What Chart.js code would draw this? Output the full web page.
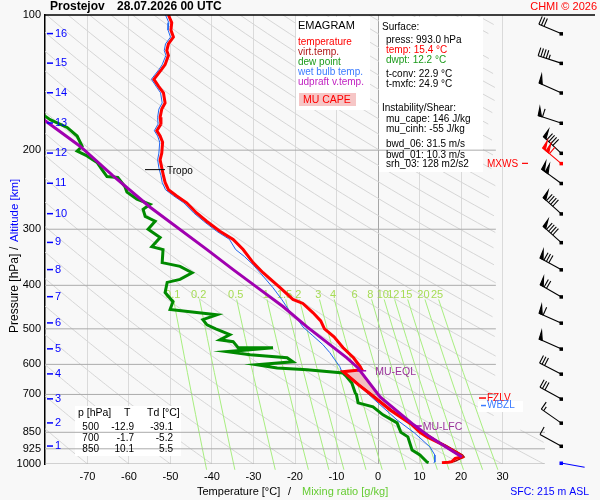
<!DOCTYPE html>
<html><head><meta charset="utf-8">
<script src="https://cdn.jsdelivr.net/npm/chart.js@4.4.1/dist/chart.umd.min.js"></script>
<style>html,body{margin:0;padding:0;background:#f8f8f8}canvas{display:block}</style>
</head><body>
<canvas id="c" width="600" height="500"></canvas>
<script>
// ---------- data ----------
const pTicks = [100,200,300,400,500,600,700,850,925,1000];
const xTicks = [-70,-60,-50,-40,-30,-20,-10,0,10,20,30];

const tempP = [100,104,108,112,116,120,123,129,132,139,144,149,157,162,169,175,181,186,192,203,210,219,228,236,245,253,262,276,288,303,316,333,356,375,405,430,439,460,480,500,521,551,580,607,617,623,666,700,758,818,850,870,907,955,965,972,988,991,993];
const tempT = [-50.5,-49.7,-49.9,-49.3,-50.5,-50.9,-50.5,-51.3,-52.1,-54.0,-52.9,-51.7,-51.3,-52.1,-52.5,-52.3,-53.3,-52.5,-51.9,-52.1,-52.5,-52.1,-51.7,-51.3,-50.5,-48.5,-46.1,-43.7,-41.3,-38.1,-34.9,-32.5,-30.1,-27.7,-23.6,-20.5,-18.1,-15.7,-13.8,-12.9,-10.6,-8.4,-5.9,-4.3,-3.9,-8.4,-4.7,-1.7,2.9,8.2,10.1,11.8,15.7,19.8,20.2,18.6,17.8,17.0,15.4];

const virtP = [993,988,965,955,907,870,850,818,758,700,666,623,617,580,551,521,500];
const virtT = [16.0,18.4,20.8,20.4,16.3,12.3,10.6,8.6,3.3,-1.4,-4.5,-8.2,-3.7,-5.8,-8.3,-10.5,-12.8];

const dewP = [164,168,171,178,186,196,201,206,213,221,229,230,241,248,257,264,271,281,288,300,313,328,333,356,363,375,388,394,415,435,453,458,465,477,490,500,515,529,534,551,551,562,571,580,592,601,611,617,627,640,660,694,700,731,746,777,810,850,870,931,955,990,993];
const dewT = [-82.0,-80.2,-79.0,-74.9,-72.5,-71.3,-72.5,-70.1,-67.7,-66.5,-65.3,-62.7,-61.0,-60.5,-58.1,-54.9,-56.6,-56.1,-53.7,-55.4,-52.5,-54.5,-51.8,-52.0,-47.7,-44.8,-47.7,-50.8,-51.3,-49.4,-50.1,-45.3,-38.8,-42.2,-41.2,-39.1,-35.7,-38.1,-34.9,-33.7,-25.3,-36.4,-30.8,-21.9,-20.5,-29.2,-24.3,-17.1,-8.4,-7.5,-6.3,-5.5,-5.2,-4.8,-1.2,1.2,4.6,5.5,7.2,8.2,10.1,11.8,12.2];

const wbP = [100,104,108,112,116,120,123,129,132,139,144,149,157,162,169,175,181,186,192,203,210,219,228,236,245,253,262,276,288,303,316,333,345,360,375,405,430,458,477,495,518,542,565,586,607,633,649,694,738,798,853,916,955,990,993];
const wbT = [-51.2,-50.4,-50.6,-50.0,-51.2,-51.5,-51.1,-52.0,-52.7,-54.6,-53.5,-52.4,-52.0,-52.8,-53.1,-53.0,-53.9,-53.1,-52.6,-52.8,-53.1,-52.8,-52.3,-52.0,-51.2,-49.2,-46.8,-44.4,-42.0,-38.9,-35.8,-34.3,-32.2,-30.1,-28.4,-25.3,-23.2,-21.2,-19.3,-18.1,-15.7,-13.3,-11.6,-10.4,-9.2,-8.4,-6.0,-2.7,0.5,4.6,8.8,12.5,13.7,13.7,13.4];

const parP = [965,870,818,709,620,611,580,542,495,446,409,369,333,268,228,196,172,160];
const parT = [20.2,12.5,8.6,0.5,-4.3,-4.8,-7.5,-11.6,-17.1,-22.9,-28.4,-34.9,-41.2,-54.9,-63.9,-71.8,-80.2,-84.0];

const lfcP = 823, lfcT = 8.6;
const eqlP = 620, eqlT = -4.3;
const tropoP = 221;
const fzlP = 713, wbzlP = 741;

const mixW = [0.1,0.2,0.5,1,1.5,2,3,4,6,8,10,12,15,20,25];
const mixLabels = ['0.1','0.2','0.5','1','1.5','2','3','4','6','8','10','12','15','20','25'];
const mixP = [430,475,525,575,625,700,775,850,925,1000,1030];
const mixLabelP = 420;

const altKm = [1,2,3,4,5,6,7,8,9,10,11,12,13,14,15,16];
const altP = [912,810,716,630,554,485,424,369,321,277,237,203,174,149,128,110];
const windDir = [299,305,299,297,294,294,300,299,312,312,306,313,288,294,288,293];
const windSpd = [10,15,30,30,50,60,70,80,90,90,100,90,60,50,45,30];
const mxwsP = 214, mxwsDir = 310, mxwsSpd = 110;
const sfcP = 995, sfcDir = 100, sfcSpd = 0;

const tableP = ['500','700','850'];
const tableT = ['-12.9','-1.7','10.1'];
const tableTd = ['-39.1','-5.2','5.5'];

// ---------- helpers ----------
const FONT = '"Liberation Sans", Arial, sans-serif';
const pts = (P, T) => P.map((p, i) => ({x: T[i], y: p}));
function tdFromW(w, p){ const e = w*p/(622+w); const a = Math.log(e/6.112); return 243.5*a/(17.67-a); }
function txt(ctx, s, x, y, col, size, align, bold){
  ctx.font = (bold ? 'bold ' : '') + size + 'px ' + FONT;
  ctx.fillStyle = col; ctx.textAlign = align || 'left'; ctx.textBaseline = 'middle';
  ctx.fillText(s, x, y);
}

const datasets = [];
// dry adiabats (reference grid)
const adiaP = []; for (let p = 100; p <= 1000; p += 5) adiaP.push(p);
for (let th = -70; th <= 300; th += 10) {
  let seg = [];
  const flush = () => { if (seg.length > 1) datasets.push({data: seg, borderColor: '#d6d6d6', borderWidth: 1, kind: 'bg', order: 100}); seg = []; };
  for (const p of adiaP) {
    const t = (th + 273.15) * Math.pow(p/1000, 0.2857) - 273.15;
    const lim = p >= 840 ? 40.3 : 28.4;
    if (t <= lim) seg.push({x: t, y: p}); else flush();
  }
  flush();
}
// mixing ratio lines
mixW.forEach(w => {
  datasets.push({data: mixP.map(p => ({x: tdFromW(w, p), y: p})), borderColor: '#a8ee80', borderWidth: 1, kind: 'bg', order: 95, clip: {left: 1, top: 1, right: 1, bottom: 7}});
});
// isobars
pTicks.slice(1).forEach(p => {
  datasets.push({data: [{x: -80.24, y: p}, {x: p >= 850 ? 40.24 : 28.4, y: p}], borderColor: '#ababab', borderWidth: 1, kind: 'iso', order: 60});
});
// CAPE polygons (built from parcel and temperature arrays)
const parPts = parP.map((p,i)=>({x: parT[i], y: p}));
const tmpPts = tempP.map((p,i)=>({x: tempT[i], y: p}));
const cape1 = [...parPts.filter(o => o.y >= 617 && o.y <= 818), ...tmpPts.filter(o => o.y >= 617 && o.y <= 818)];
const cape2 = [...parPts.filter(o => o.y >= 818 && o.y <= 965), ...tmpPts.filter(o => o.y >= 818 && o.y <= 965).reverse()];
// profiles
datasets.push({data: pts(wbP, wbT), borderColor: '#2266ee', borderWidth: 1, kind: 'prof', order: 40});
datasets.push({data: pts(virtP, virtT), borderColor: '#9a0000', borderWidth: 1.2, kind: 'prof', order: 35});
datasets.push({data: pts(dewP, dewT), borderColor: '#008a00', borderWidth: 3, kind: 'prof', order: 30});
datasets.push({data: pts(tempP, tempT), borderColor: '#ff0000', borderWidth: 3, kind: 'prof', order: 20});
datasets.push({data: pts(parP, parT), borderColor: '#a000b0', borderWidth: 3, kind: 'prof', order: 10});
datasets.forEach(d => { d.showLine = true; d.pointRadius = 0; d.fill = false; });

function barb(ctx, x0, y0, dir, spd, col){
  const r = dir*Math.PI/180, ux = Math.sin(r), uy = -Math.cos(r);
  const L = 24, bl = 8.5;
  const tx = x0 + ux*L, ty = y0 + uy*L;
  const bx = -uy*bl, by = ux*bl;
  ctx.strokeStyle = col; ctx.fillStyle = col; ctx.lineWidth = 1.1;
  ctx.beginPath(); ctx.moveTo(x0, y0); ctx.lineTo(tx, ty); ctx.stroke();
  ctx.fillRect(x0-1.5, y0-1.5, 3.5, 3.5);
  let s = Math.round(spd/5)*5, pos = 0;
  const flags = Math.floor(s/50); s -= flags*50;
  const full = Math.floor(s/10); s -= full*10;
  const half = s >= 5;
  for (let i = 0; i < flags; i++) {
    const ax = tx - ux*pos, ay = ty - uy*pos, cx = tx - ux*(pos+3.5), cy = ty - uy*(pos+3.5);
    ctx.beginPath(); ctx.moveTo(ax, ay); ctx.lineTo(ax + bx + ux*1, ay + by + uy*1); ctx.lineTo(cx, cy); ctx.closePath(); ctx.fill(); ctx.stroke();
    pos += 4.5;
  }
  for (let i = 0; i < full; i++) {
    const ax = tx - ux*pos, ay = ty - uy*pos;
    ctx.beginPath(); ctx.moveTo(ax, ay); ctx.lineTo(ax + bx, ay + by); ctx.stroke();
    pos += 2.8;
  }
  if (half) {
    if (flags === 0 && full === 0) pos = 2.8;
    const ax = tx - ux*pos, ay = ty - uy*pos;
    ctx.beginPath(); ctx.moveTo(ax, ay); ctx.lineTo(ax + bx*0.55, ay + by*0.55); ctx.stroke();
  }
}

function poly(ctx, X, Y, arr, fill, stroke){
  ctx.beginPath();
  arr.forEach((o, i) => { const x = X.getPixelForValue(o.x), y = Y.getPixelForValue(o.y); if (i) ctx.lineTo(x, y); else ctx.moveTo(x, y); });
  ctx.closePath();
  ctx.fillStyle = fill; ctx.fill();
  if (stroke) { ctx.strokeStyle = stroke; ctx.lineWidth = 1; ctx.stroke(); }
}

function drawBoxes(chart){
  const ctx = chart.ctx, X = chart.scales.x, Y = chart.scales.y;
  ctx.save();
  ctx.fillStyle = '#ffffff';
  ctx.fillRect(296, 17, 74, 93);
  ctx.fillRect(379, 17, 104, 155);
  ctx.fillRect(75, 406, 106, 50);
  mixW.forEach((w, i) => {
    txt(ctx, mixLabels[i], X.getPixelForValue(tdFromW(w, mixLabelP)), Y.getPixelForValue(mixLabelP), '#a6dc55', 11, 'center');
  });
  const ca = chart.chartArea;
  ctx.beginPath(); ctx.rect(ca.left, ca.top, ca.right - ca.left, ca.bottom - ca.top); ctx.clip();
  poly(ctx, X, Y, cape2, '#fbe6e6', '#b00000');
  poly(ctx, X, Y, cape1, '#f2c0c0', null);
  ctx.restore();
}

const annot = {
  id: 'annot',
  beforeDraw(chart){ const c = chart.ctx; c.save(); c.fillStyle = '#f8f8f8'; c.fillRect(0, 0, chart.width, chart.height); c.restore(); },
  beforeDatasetsDraw(chart){ chart.$boxes = false; },
  beforeDatasetDraw(chart, args){
    const ds = chart.data.datasets[args.index];
    if (!chart.$boxes && ds.kind !== 'bg') { chart.$boxes = true; drawBoxes(chart); }
  },
  afterDatasetsDraw(chart){
    const ctx = chart.ctx, X = chart.scales.x, Y = chart.scales.y;
    const px = t => X.getPixelForValue(t), py = p => Y.getPixelForValue(p);
    ctx.save();
    // top frame line
    ctx.strokeStyle = '#000'; ctx.lineWidth = 1.5;
    ctx.beginPath(); ctx.moveTo(45, py(100)); ctx.lineTo(595, py(100)); ctx.stroke();
    // title
    txt(ctx, 'Prostejov', 50, 7, '#000', 12, 'left', true);
    txt(ctx, '28.07.2026 00 UTC', 117, 7, '#000', 12, 'left', true);
    txt(ctx, 'CHMI \u00a9 2026', 597, 7, '#ff0000', 11, 'right');
    // legend
    txt(ctx, 'EMAGRAM', 298, 26, '#000', 11);
    txt(ctx, 'temperature', 298, 42, '#ff0000', 10);
    txt(ctx, 'virt.temp.', 298, 52, '#b01818', 10);
    txt(ctx, 'dew point', 298, 62, '#1a9a1a', 10);
    txt(ctx, 'wet bulb temp.', 298, 72, '#3a7bff', 10);
    txt(ctx, 'udpraft v.temp.', 298, 82, '#c020c0', 10);
    ctx.fillStyle = '#f6c6c6'; ctx.fillRect(299, 93, 57, 13);
    txt(ctx, 'MU CAPE', 303, 100, '#ff0000', 10.5);
    // info box
    txt(ctx, 'Surface:', 382, 27, '#000', 10);
    txt(ctx, 'press: 993.0 hPa', 386, 40, '#000', 10);
    txt(ctx, 'temp: 15.4 \u00b0C', 386, 50, '#ff0000', 10);
    txt(ctx, 'dwpt: 12.2 \u00b0C', 386, 60, '#1a9a1a', 10);
    txt(ctx, 't-conv: 22.9 \u00b0C', 386, 74, '#000', 10);
    txt(ctx, 't-mxfc: 24.9 \u00b0C', 386, 84, '#000', 10);
    txt(ctx, 'Instability/Shear:', 382, 108, '#000', 10);
    txt(ctx, 'mu_cape: 146 J/kg', 386, 119, '#000', 10);
    txt(ctx, 'mu_cinh: -55 J/kg', 386, 129, '#000', 10);
    txt(ctx, 'bwd_06: 31.5 m/s', 386, 144, '#000', 10);
    txt(ctx, 'bwd_01: 10.3 m/s', 386, 155, '#000', 10);
    txt(ctx, 'srh_03: 128 m2/s2', 386, 164, '#000', 10);
    // table
    txt(ctx, 'p [hPa]', 78, 413, '#000', 10.5);
    txt(ctx, 'T', 124, 413, '#000', 10.5);
    txt(ctx, 'Td [\u00b0C]', 147, 413, '#000', 10.5);
    const rowY = [427, 438, 449];
    tableP.forEach((v, i) => {
      txt(ctx, v, 99, rowY[i], '#000', 10, 'right');
      txt(ctx, tableT[i], 134, rowY[i], '#000', 10, 'right');
      txt(ctx, tableTd[i], 173, rowY[i], '#000', 10, 'right');
    });
    // altitude ticks
    ctx.strokeStyle = '#0000ff'; ctx.lineWidth = 1.5;
    altKm.forEach((k, i) => {
      const y = py(altP[i]);
      ctx.beginPath(); ctx.moveTo(47, y); ctx.lineTo(53, y); ctx.stroke();
      txt(ctx, String(k), 55, y, '#0000ff', 11);
    });
    // axis titles
    ctx.save(); ctx.translate(15, 333); ctx.rotate(-Math.PI/2);
    txt(ctx, 'Pressure [hPa]', 0, 0, '#000', 12);
    txt(ctx, '/', 83, 0, '#000', 12);
    txt(ctx, 'Altitude [km]', 91, 0, '#0000ff', 11.5);
    ctx.restore();
    txt(ctx, 'Temperature [\u00b0C]', 197, 492, '#000', 11);
    txt(ctx, '/', 288, 492, '#000', 11);
    txt(ctx, 'Mixing ratio [g/kg]', 302, 492, '#66cc33', 11);
    txt(ctx, 'SFC: 215 m ASL', 589, 492, '#0000ff', 10.5, 'right');
    // tropopause
    ctx.strokeStyle = '#000'; ctx.lineWidth = 1;
    const ty = py(tropoP);
    ctx.beginPath(); ctx.moveTo(145, ty); ctx.lineTo(165, ty); ctx.stroke();
    txt(ctx, 'Tropo', 167, ty + 2, '#000', 10);
    // EQL / LFC markers
    ctx.strokeStyle = '#a000b0'; ctx.lineWidth = 1.5;
    const ex = px(eqlT), ey = py(eqlP);
    ctx.beginPath(); ctx.moveTo(ex - 3, ey); ctx.lineTo(ex + 6, ey); ctx.stroke();
    txt(ctx, 'MU-EQL', ex + 15, ey + 1, '#993399', 10.5);
    const lx = px(lfcT), ly = py(lfcP);
    ctx.beginPath(); ctx.moveTo(lx, ly); ctx.lineTo(lx + 8, ly); ctx.stroke();
    txt(ctx, 'MU-LFC', lx + 9, ly + 1, '#993399', 10.5);
    // FZLV / WBZL
    ctx.lineWidth = 1.5;
    const fy = py(fzlP), wy = py(wbzlP);
    ctx.strokeStyle = '#ff0000'; ctx.beginPath(); ctx.moveTo(479, fy); ctx.lineTo(486, fy); ctx.stroke();
    txt(ctx, 'FZLV', 487, fy, '#ff0000', 10);
    ctx.fillStyle = '#ffffff'; ctx.fillRect(478, fy + 3, 45, 11);
    ctx.strokeStyle = '#3a7bff'; ctx.beginPath(); ctx.moveTo(481, wy); ctx.lineTo(486, wy); ctx.stroke();
    txt(ctx, 'WBZL', 487, wy, '#3a7bff', 10);
    // wind barbs
    altP.forEach((p, i) => barb(ctx, 561, py(p), windDir[i], windSpd[i], '#000'));
    barb(ctx, 561, py(mxwsP), mxwsDir, mxwsSpd, '#ff0000');
    barb(ctx, 561, py(sfcP), sfcDir, sfcSpd, '#0000ff');
    txt(ctx, 'MXWS', 487, py(mxwsP) + 1, '#ff0000', 10);
    ctx.strokeStyle = '#ff0000'; ctx.lineWidth = 1.2;
    ctx.beginPath(); ctx.moveTo(522, py(mxwsP)); ctx.lineTo(528, py(mxwsP)); ctx.stroke();
    ctx.restore();
  }
};

Chart.defaults.font.family = FONT;
Chart.defaults.font.size = 11;
Chart.defaults.color = '#000';

new Chart(document.getElementById('c'), {
  type: 'scatter',
  data: {datasets},
  options: {
    responsive: false, animation: false, events: [],
    layout: {padding: {left: 0, right: 55, top: 15, bottom: 0}},
    plugins: {legend: {display: false}, tooltip: {enabled: false}, title: {display: false}},
    elements: {line: {tension: 0}},
    scales: {
      x: {
        type: 'linear', min: -80.24, max: 40.24,
        afterBuildTicks: s => { s.ticks = xTicks.map(v => ({value: v})); },
        afterFit: s => { s.height = 36; },
        grid: {color: c => (c.tick && c.tick.value === 0) ? '#a6a6a6' : '#dadada', lineWidth: 1, drawTicks: false},
        border: {display: false},
        ticks: {padding: 6, color: '#000', font: {size: 11}, maxRotation: 0, autoSkip: false, callback: v => String(v)}
      },
      y: {
        type: 'logarithmic', reverse: true, min: 100, max: 1000,
        afterBuildTicks: s => { s.ticks = pTicks.map(v => ({value: v})); },
        afterFit: s => { s.width = 45; },
        grid: {display: false, drawTicks: false},
        border: {display: true, color: '#000', width: 1.5},
        ticks: {padding: 4, color: '#000', font: {size: 11}, autoSkip: false, callback: v => String(v)}
      }
    }
  },
  plugins: [annot]
});
</script>
</body></html>
